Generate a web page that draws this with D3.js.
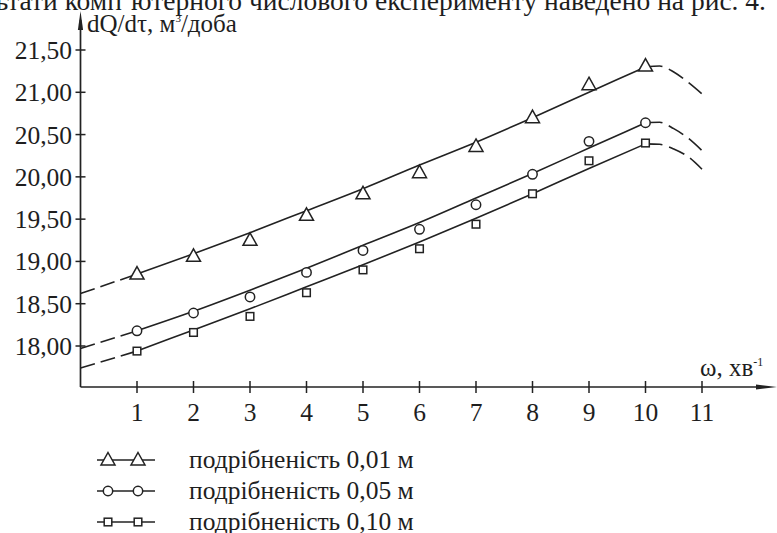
<!DOCTYPE html>
<html>
<head>
<meta charset="utf-8">
<script src="https://cdn.jsdelivr.net/npm/d3@7"></script>
<style>
  body{margin:0;background:#fff;}
  svg text{font-family:"Liberation Serif","Times New Roman",Times,serif;fill:#1e1e1e;}
</style>
</head>
<body>
<div id="stage"></div>
<script>

// measured points, x = 1..10
var omega=[1,2,3,4,5,6,7,8,9,10];
var tri=[18.85,19.06,19.25,19.545,19.80,20.05,20.36,20.70,21.09,21.31];
var circ=[18.18,18.39,18.58,18.87,19.13,19.38,19.67,20.03,20.42,20.64];
var sq=[17.94,18.16,18.35,18.63,18.90,19.15,19.44,19.80,20.19,20.40];

// fitted curves (solid) at x = 1..10
var triFit=[18.85,19.09,19.34,19.60,19.86,20.14,20.41,20.70,21.00,21.30];
var circFit=[18.18,18.41,18.66,18.92,19.19,19.46,19.75,20.04,20.34,20.64];
var sqFit=[17.94,18.19,18.44,18.70,18.96,19.23,19.51,19.80,20.10,20.39];

// dashed extrapolation
var leadX=[0,1];
var triLead=[18.62,18.85];
var circLead=[17.97,18.18];
var sqLead=[17.74,17.94];
var tailX=[10,10.25,10.5,10.75,11];
var triTail=[21.30,21.31,21.24,21.12,20.98];
var circTail=[20.64,20.645,20.57,20.46,20.31];
var sqTail=[20.39,20.385,20.33,20.24,20.09];

var yTicks=[18,18.5,19,19.5,20,20.5,21,21.5];
var xTicks=[1,2,3,4,5,6,7,8,9,10,11];
var labels=["подрібненість 0,01 м","подрібненість 0,05 м","подрібненість 0,10 м"];

var W=777,H=533, ink="#222";

var svg=d3.select("#stage").append("svg")
  .attr("width",W).attr("height",H);

var x=d3.scaleLinear().domain([0,11]).range([80.5,702]);
var y=d3.scaleLinear().domain([18,21.5]).range([346,50]);
var y0=387;

// caption line cut at top
svg.append("text")
  .attr("x",766).attr("y",10)
  .attr("text-anchor","end")
  .style("font-size","27.5px")
  .text("Результати комп’ютерного числового експерименту наведено на рис. 4.");

// axes
svg.append("line").attr("x1",x(0)).attr("x2",x(0)).attr("y1",y0).attr("y2",20)
  .attr("stroke",ink).attr("stroke-width",1.7);
svg.append("path").attr("d","M"+x(0)+",11 L"+(x(0)-2.6)+",30 L"+(x(0)+2.6)+",30Z").attr("fill",ink);
svg.append("line").attr("x1",x(0)).attr("x2",765).attr("y1",y0).attr("y2",y0)
  .attr("stroke",ink).attr("stroke-width",1.7);
svg.append("path").attr("d","M777,"+y0+" L756,"+(y0-2.6)+" L756,"+(y0+2.6)+"Z").attr("fill",ink);

svg.selectAll(".yt").data(yTicks).enter().append("line")
  .attr("x1",x(0)-5).attr("x2",x(0)+5)
  .attr("y1",function(d){return y(d)}).attr("y2",function(d){return y(d)})
  .attr("stroke",ink).attr("stroke-width",1.5);
svg.selectAll(".yl").data(yTicks).enter().append("text")
  .attr("x",72).attr("y",function(d){return y(d)+9})
  .attr("text-anchor","end").style("font-size","25.5px")
  .text(function(d){return d3.format(".2f")(d).replace(".",",")});

svg.selectAll(".xt").data(xTicks).enter().append("line")
  .attr("x1",function(d){return x(d)}).attr("x2",function(d){return x(d)})
  .attr("y1",y0-6).attr("y2",y0+6)
  .attr("stroke",ink).attr("stroke-width",1.5);
svg.selectAll(".xl").data(xTicks).enter().append("text")
  .attr("x",function(d){return x(d)}).attr("y",421)
  .attr("text-anchor","middle").style("font-size","25.5px")
  .text(function(d){return d});

var yl=svg.append("text").attr("x",87).attr("y",32).style("font-size","25px");
yl.append("tspan").text("dQ/dτ, м");
yl.append("tspan").attr("dy",-10).style("font-size","11px").text("3");
yl.append("tspan").attr("dy",10).text("/доба");

var xl=svg.append("text").attr("x",700).attr("y",376).style("font-size","25px");
xl.append("tspan").text("ω, хв");
xl.append("tspan").attr("dy",-10).style("font-size","12px").text("-1");

// curves
var series=[
  {pts:tri,fit:triFit,lead:triLead,tail:triTail,m:"tri"},
  {pts:circ,fit:circFit,lead:circLead,tail:circTail,m:"circ"},
  {pts:sq,fit:sqFit,lead:sqLead,tail:sqTail,m:"sq"}
];

var line=d3.line().x(function(d){return x(d[0])}).y(function(d){return y(d[1])})
  .curve(d3.curveMonotoneX);

series.forEach(function(s){
  svg.append("path").attr("d",line(d3.zip(omega,s.fit)))
    .attr("fill","none").attr("stroke",ink).attr("stroke-width",1.6);
  svg.append("path").attr("d",line(d3.zip(leadX,s.lead)))
    .attr("fill","none").attr("stroke",ink).attr("stroke-width",1.6)
    .attr("stroke-dasharray","15,6");
  svg.append("path").attr("d",line(d3.zip(tailX,s.tail)))
    .attr("fill","none").attr("stroke",ink).attr("stroke-width",1.6)
    .attr("stroke-dasharray","17,7");
});

function marker(g,type,cx,cy){
  if(type=="tri"){
    g.append("path").attr("d","M"+cx+","+(cy-7.5)+" L"+(cx+7)+","+(cy+5)+" L"+(cx-7)+","+(cy+5)+"Z")
      .attr("fill","#fff").attr("stroke",ink).attr("stroke-width",1.5);
  }else if(type=="circ"){
    g.append("circle").attr("cx",cx).attr("cy",cy).attr("r",4.7)
      .attr("fill","#fff").attr("stroke",ink).attr("stroke-width",1.5);
  }else{
    g.append("rect").attr("x",cx-3.8).attr("y",cy-3.8).attr("width",7.6).attr("height",7.6)
      .attr("fill","#fff").attr("stroke",ink).attr("stroke-width",1.5);
  }
}

series.forEach(function(s){
  var g=svg.append("g");
  omega.forEach(function(o,i){ marker(g,s.m,x(o),y(s.pts[i])); });
});

// legend
var legY=[460,491,522];
series.forEach(function(s,i){
  var g=svg.append("g");
  g.append("line").attr("x1",97).attr("x2",155).attr("y1",legY[i]).attr("y2",legY[i])
    .attr("stroke",ink).attr("stroke-width",1.5);
  marker(g,s.m,108,legY[i]);
  marker(g,s.m,138,legY[i]);
  g.append("text").attr("x",189).attr("y",legY[i]+8).style("font-size","25.5px").text(labels[i]);
});

</script>
</body>
</html>
